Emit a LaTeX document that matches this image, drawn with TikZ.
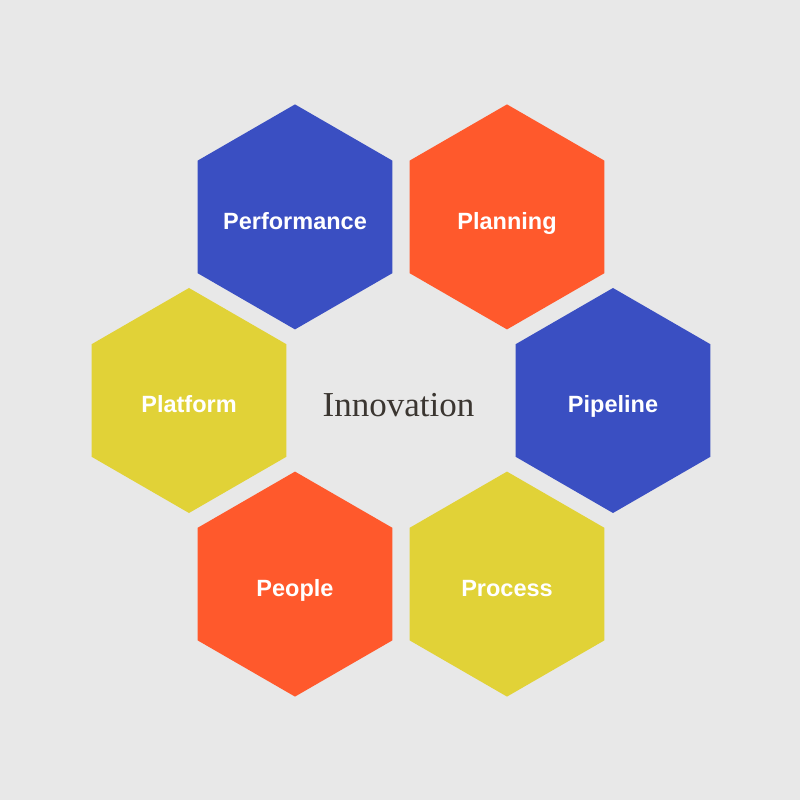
\documentclass[tikz,border=0pt]{standalone}
\usepackage{fontspec}
\setmainfont{Liberation Serif}
\newfontfamily\hexfont{Liberation Sans}
\usetikzlibrary{shapes.geometric}
\definecolor{bgray}{HTML}{E8E8E8}
\definecolor{hblue}{HTML}{3A4FC2}
\definecolor{horange}{HTML}{FF592C}
\definecolor{hyellow}{HTML}{E1D237}
\definecolor{tdark}{HTML}{3B3631}
\begin{document}
\begin{tikzpicture}[x=1pt,y=1pt]
		\tikzset{hexa/.style = {shape=regular polygon, regular polygon sides=6, shape border rotate=30, minimum size=225pt, inner sep=0pt},
			hexlabel/.style = {inner sep=0pt, text=white, font=\hexfont\fontsize{23.5}{28}\bfseries, text height=25pt, text depth=0pt}}
		\fill[bgray] (-401,-399.5) rectangle (399,400.5);
		\useasboundingbox (-401,-399.5) rectangle (399,400.5);
		% Draw ring of hexagons
		\node[hexa, fill=horange, label={[hexlabel]center:Planning}] (planning) at (60:212) {};
		\node[hexa, fill=hblue, label={[hexlabel]center:Performance}] (performance) at (120:212) {};
		\node[hexa, fill=hyellow, label={[hexlabel]center:Platform}] (platform) at (180:212) {};
		\node[hexa, fill=horange, label={[hexlabel]center:People}] (people) at (240:212) {};
		\node[hexa, fill=hyellow, label={[hexlabel]center:Process}] (process) at (300:212) {};
		\node[hexa, fill=hblue, label={[hexlabel]center:Pipeline}] (pipeline) at (0:212) {};
		\node[anchor=base, text=tdark, font=\fontsize{35}{40}\selectfont] (innovation) at (-2.5,-16.2) {Innovation};
	\end{tikzpicture}
\end{document}
